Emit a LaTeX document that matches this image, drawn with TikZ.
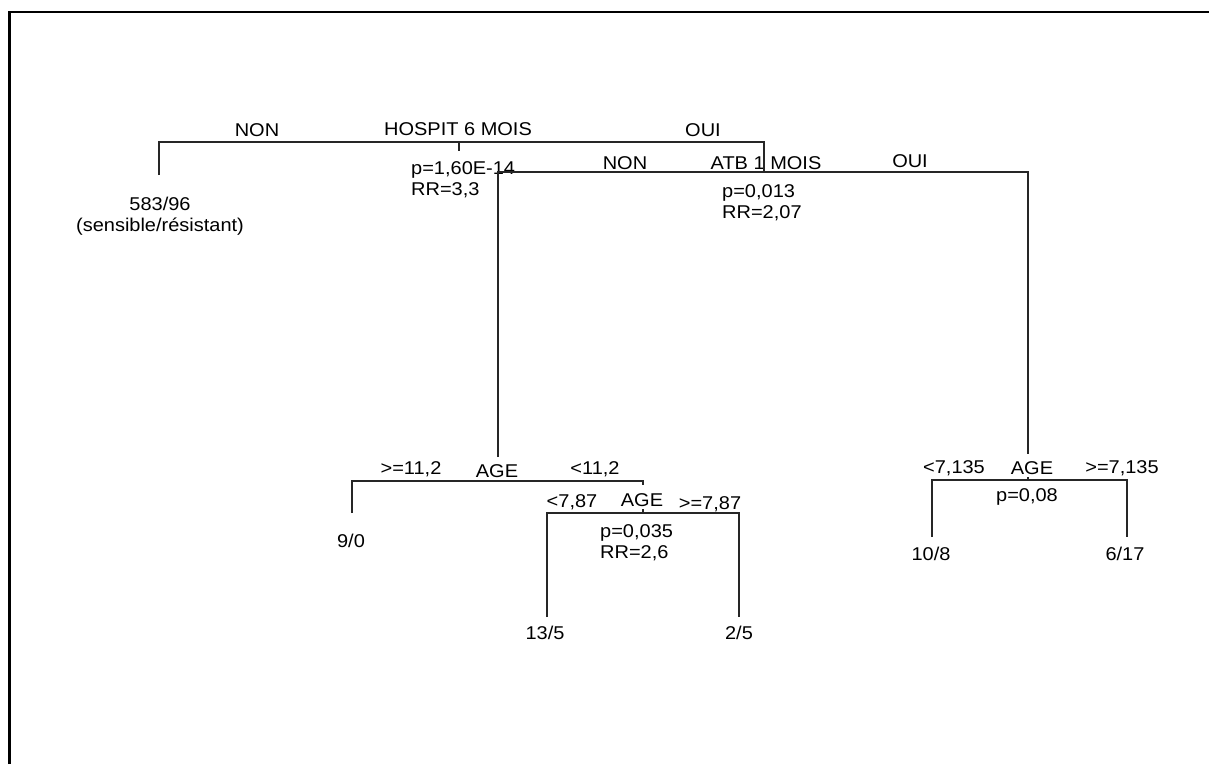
\documentclass[tikz,border=0pt]{standalone}
\usepackage{fontspec}
\setmainfont{Liberation Sans}[FakeStretch=1.08]
\usetikzlibrary{positioning}
\tikzset{
    lbl/.style={inner sep=0pt, anchor=base, font=\fontsize{18.5}{21}\selectfont},
    stat/.style={inner sep=0pt, anchor=base west, align=left, font=\fontsize{18.5}{21.5}\selectfont},
    leaf/.style={inner sep=0pt, anchor=base, align=center, font=\fontsize{18.5}{21}\selectfont},
    branch/.style={line width=1.3pt, black!85},
}

\begin{document}
\begin{tikzpicture}[x=1pt, y=-1pt]

\useasboundingbox (0,0) rectangle (1209,764);

% Frame
\draw[line width=2.7pt] (9.5,764) -- (9.5,12) -- (1209,12);

% ── HOSPIT 6 MOIS ──
\node[lbl] (hosp) at (458,135) {HOSPIT 6 MOIS};
\node[lbl] (hospNon) at (257,136) {NON};
\node[lbl] (hospOui) at (703,136) {OUI};
\node[stat] (hospStat) at (411,195.5) {p=1,60E-14\\RR=3,3};
\coordinate (hospL) at (159,142);
\coordinate (hospJ) at (459,142);
\coordinate (hospT) at (459,151);
\coordinate (hospR) at (764,142);

% Leaf
\node[leaf] (leafA) at (160,231) {583/96\\(sensible/résistant)};
\coordinate (leafAtop) at (159,175);

% ── ATB 1 MOIS ──
\node[lbl] (atb) at (766,169) {ATB 1 MOIS};
\node[lbl] (atbNon) at (625,169) {NON};
\node[lbl] (atbOui) at (910,167) {OUI};
\node[stat] (atbStat) at (722,218.5) {p=0,013\\RR=2,07};
\coordinate (atbL) at (498,172);
\coordinate (atbJ) at (764,172);
\coordinate (atbR) at (1028,172);

\draw[branch] (leafAtop) -- (hospL) -- (hospR) -- (atbJ);
\draw[branch] (hospJ) -- (hospT);

% ── AGE (left) ──
\node[lbl] (ageA) at (497,477) {AGE};
\node[lbl] (ageAhi) at (411,474) {>=11,2};
\node[lbl] (ageAlo) at (595,474) {<11,2};
\coordinate (ageAtop) at (498,457);
\coordinate (ageAL) at (352,481);
\coordinate (ageAR) at (643,481);
\coordinate (ageAT) at (643,485);
\node[leaf] (leafB) at (351,547) {9/0};
\coordinate (leafBtop) at (352,513);

% ── AGE (middle) ──
\node[lbl] (ageB) at (642,506) {AGE};
\node[lbl] (ageBlo) at (572,507) {<7,87};
\node[lbl] (ageBhi) at (710,509) {>=7,87};
\node[stat] (ageBStat) at (600,558.5) {p=0,035\\RR=2,6};
\coordinate (ageBL) at (547,513);
\coordinate (ageBJ) at (643,513);
\coordinate (ageBT) at (643,509);
\coordinate (ageBR) at (739,513);
\node[leaf] (leafC) at (545,639) {13/5};
\node[leaf] (leafD) at (739,639) {2/5};
\coordinate (leafCtop) at (547,617);
\coordinate (leafDtop) at (739,617);

% ── AGE (right) ──
\node[lbl] (ageC) at (1032,474) {AGE};
\node[lbl] (ageClo) at (954,473) {<7,135};
\node[lbl] (ageChi) at (1122,473) {>=7,135};
\node[lbl] (ageCStat) at (1027,501) {p=0,08};
\coordinate (ageCtop) at (1028,454);
\coordinate (ageCL) at (932,480);
\coordinate (ageCJ) at (1028,480);
\coordinate (ageCT) at (1028,477);
\coordinate (ageCR) at (1127,480);
\node[leaf] (leafE) at (931,560) {10/8};
\node[leaf] (leafF) at (1125,560) {6/17};
\coordinate (leafEtop) at (932,537);
\coordinate (leafFtop) at (1127,537);

% Branches
\draw[branch] (ageAtop) -- (atbL) -- (atbR) -- (ageCtop);
\draw[branch] (leafBtop) -- (ageAL) -- (ageAR) -- (ageAT);
\draw[branch] (leafCtop) -- (ageBL) -- (ageBR) -- (leafDtop);
\draw[branch] (ageBJ) -- (ageBT);
\draw[branch] (leafEtop) -- (ageCL) -- (ageCR) -- (leafFtop);
\draw[branch] (ageCJ) -- (ageCT);

\end{tikzpicture}
\end{document}
